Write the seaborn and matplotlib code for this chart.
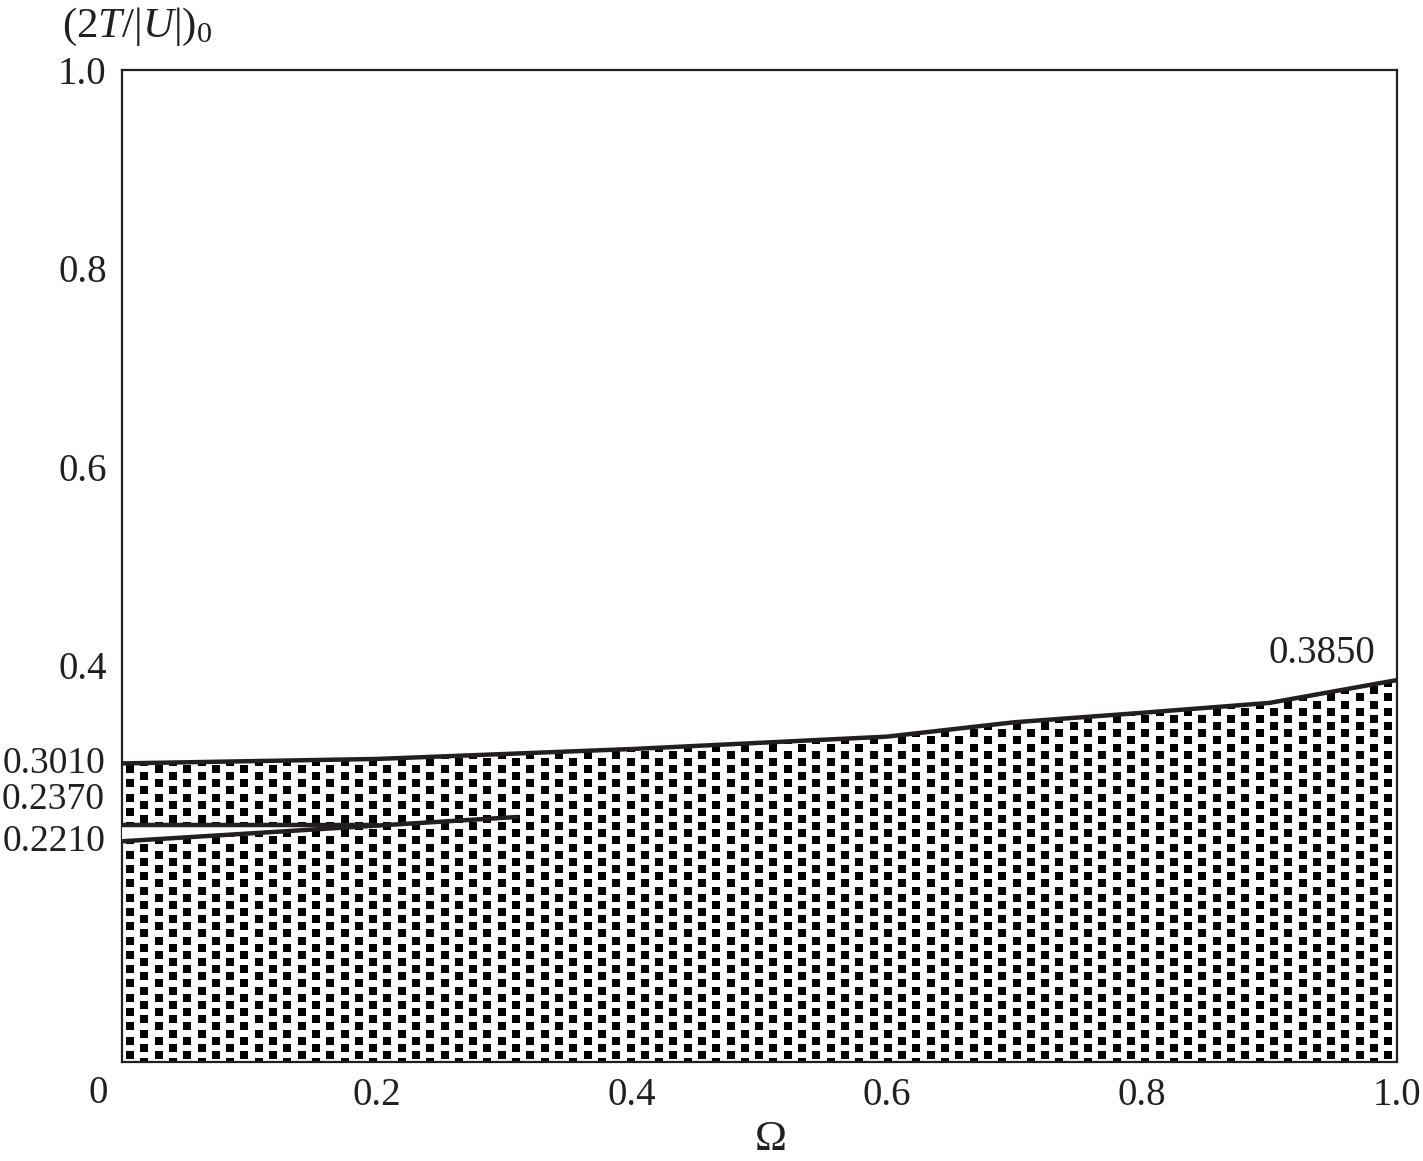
import numpy as np
import matplotlib
matplotlib.use("Agg")
import matplotlib.pyplot as plt
import seaborn as sns

# ---------------- data ----------------
omega_upper = [0.0, 0.2, 0.4, 0.6, 0.7, 0.8, 0.9, 1.0]
ratio_upper = [0.301, 0.3055, 0.3155, 0.328, 0.3425, 0.352, 0.362, 0.385]

omega_flat = [0.0, 0.2]
ratio_flat = [0.239, 0.239]

omega_rise = [0.0, 0.31]
ratio_rise = [0.2225, 0.247]

left_labels = ["0.3010", "0.2370", "0.2210"]
left_label_y = [0.301, 0.239, 0.2225]
left_label_dy = [0, 25, 0]          # pixel shift of each label
right_label = "0.3850"

xticks = [0.2, 0.4, 0.6, 0.8, 1.0]
xticklabels = ["0.2", "0.4", "0.6", "0.8", "1.0"]
yticks = [0.2, 0.4, 0.6, 0.8, 1.0]
yticklabels = ["", "0.4", "0.6", "0.8", "1.0"]

# ---------------- style ----------------
sns.set_theme(style="white")
plt.rcParams["font.family"] = ["Liberation Serif", "DejaVu Serif"]
plt.rcParams["mathtext.fontset"] = "custom"
plt.rcParams["mathtext.rm"] = "Liberation Serif"
plt.rcParams["mathtext.it"] = "Liberation Serif:italic"
ink = "#231f20"
fs = 28

W, H, DPI = 1423, 1161, 100
fig = plt.figure(figsize=(W / DPI, H / DPI), dpi=DPI)
ax = fig.add_axes([122 / W, 1 - 1062 / H, (1397 - 122) / W, (1062 - 70) / H])
ax.set_xlim(0, 1)
ax.set_ylim(0, 1)

# filled region below the upper curve
poly = ax.fill_between(omega_upper, ratio_upper, 0, facecolor="white",
                       edgecolor="none", zorder=1)
clip_path = poly.get_paths()[0]

# dotted texture (staggered square dots, ~14 px lattice)
ax_w_px, ax_h_px = 1397 - 122, 1062 - 70
dx = 14.3 / ax_w_px
dy = 14.3 / ax_h_px
x0 = 8 / ax_w_px
ytop = (1062 - 769) / ax_h_px
cols = np.arange(x0, 1.0 + dx, dx)
px, py = [], []
for i, cx in enumerate(cols):
    start = ytop + (0 if i % 2 == 0 else -dy / 2) + 20 * dy
    ys = np.arange(start, -dy, -dy)
    px.extend([cx] * len(ys))
    py.extend(ys)
dots = ax.scatter(px, py, marker="s", s=26, color="black", linewidths=0, zorder=2)
dots.set_clip_path(clip_path, ax.transData)

# white gap between the two lower curves
xg = np.linspace(omega_flat[0], omega_flat[-1], 50)
ax.fill_between(xg, np.interp(xg, omega_rise, ratio_rise),
                np.interp(xg, omega_flat, ratio_flat),
                facecolor="white", edgecolor="none", zorder=3)

# curves
for xs, ys in [(omega_upper, ratio_upper), (omega_flat, ratio_flat),
               (omega_rise, ratio_rise)]:
    sns.lineplot(x=xs, y=ys, ax=ax, color=ink, lw=3.2, sort=False,
                 estimator=None, zorder=5)

# axes styling
for s in ax.spines.values():
    s.set_linewidth(1.6)
    s.set_color(ink)
    s.set_visible(True)
ax.set_xticks(xticks)
ax.set_xticklabels(xticklabels)
ax.set_yticks(yticks)
ax.set_yticklabels(yticklabels)
ax.tick_params(axis="y", direction="in", length=10, width=1.5, color=ink,
               labelsize=fs, pad=11, labelcolor=ink)
ax.tick_params(axis="x", direction="in", length=8, width=1.5, color=ink,
               labelsize=fs, pad=11, labelcolor=ink)
ax.set_xlabel("")
ax.set_ylabel("")
ax.grid(False)

ax.annotate("0", xy=(0, 0), xycoords="data", xytext=(-24, -13),
            textcoords="offset pixels", ha="center", va="top", fontsize=fs,
            color=ink)

for lab, yv, dyp in zip(left_labels, left_label_y, left_label_dy):
    ax.annotate(lab, xy=(0, yv), xycoords="data", xytext=(-17, dyp),
                textcoords="offset pixels", ha="right", va="center",
                fontsize=27, color=ink, annotation_clip=False)

ax.annotate(right_label, xy=(omega_upper[-1], ratio_upper[-1]),
            xycoords="data", xytext=(-22, 8), textcoords="offset pixels",
            ha="right", va="bottom", fontsize=fs, color=ink)

fig.text(62 / W, 1 - 6 / H, r"$(2T/|U|)_0$", ha="left", va="top",
         fontsize=31, color=ink)
fig.text(771 / W, 2 / H, "Ω", ha="center", va="bottom", fontsize=31,
         color=ink)

fig.savefig("out.png", dpi=DPI)
